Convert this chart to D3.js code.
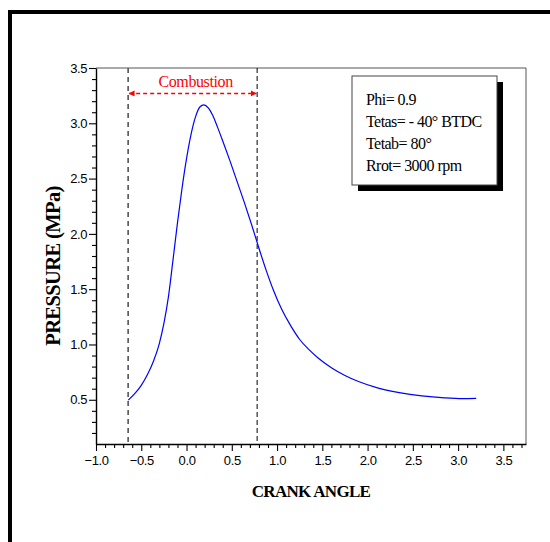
<!DOCTYPE html>
<html>
<head>
<meta charset="utf-8">
<script src="https://cdn.jsdelivr.net/npm/d3@7"></script>
<style>
  body { margin: 0; background: #fff; }
  .tick text { font-family: "Liberation Sans", Arial, sans-serif; font-size: 13px; letter-spacing: -0.4px; fill: #000; }
  .serif { font-family: "Liberation Serif", "Times New Roman", serif; }
</style>
</head>
<body>
<div id="grafico"></div>
<script>
// datos: angulo de ciguenal vs presion
angulo  = [-0.643, -0.57, -0.50, -0.43, -0.36, -0.30, -0.25, -0.20, -0.15, -0.10, -0.05, 0.00, 0.05, 0.10, 0.15, 0.19,
           0.24, 0.29, 0.34, 0.40, 0.48, 0.56, 0.64, 0.72, 0.80, 0.88, 0.96, 1.05, 1.15, 1.25, 1.35, 1.45, 1.60,
           1.75, 1.90, 2.10, 2.35, 2.60, 2.85, 3.05, 3.20]
presion = [0.497, 0.557, 0.630, 0.730, 0.860, 1.010, 1.190, 1.43, 1.76, 2.10, 2.41, 2.68, 2.90, 3.06, 3.15, 3.166,
           3.14, 3.07, 2.97, 2.84, 2.66, 2.47, 2.28, 2.08, 1.87, 1.67, 1.49, 1.32, 1.17, 1.045, 0.955, 0.88, 0.79,
           0.72, 0.665, 0.61, 0.565, 0.535, 0.517, 0.51, 0.512]

// limites de la combustion
combustion = [-0.645, 0.78]

// marcas de los ejes
ticksX = [-1.0, -0.5, 0.0, 0.5, 1.0, 1.5, 2.0, 2.5, 3.0, 3.5]
ticksY = [0.5, 1.0, 1.5, 2.0, 2.5, 3.0, 3.5]

// texto del cuadro
leyenda = ['Phi= 0.9', 'Tetas= - 40\u00b0 BTDC', 'Tetab= 80\u00b0', 'Rrot= 3000 rpm']

ancho_total = 550
alto_total = 542
margins = { top: 68, left: 96, right: 24, bottom: 98 }
ancho = ancho_total - margins.left - margins.right
alto = alto_total - margins.top - margins.bottom

svg = d3.select('#grafico').append('svg')
        .attr('width', ancho_total)
        .attr('height', alto_total)

// marco exterior
svg.append('rect')
   .attr('x', 10).attr('y', 12)
   .attr('width', 600).attr('height', 600)
   .attr('fill', 'none')
   .attr('stroke', '#000')
   .attr('stroke-width', 4)

g = svg.append('g')
       .attr('transform', `translate(${margins.left}, ${margins.top})`)

// escaladores
x = d3.scaleLinear().domain([-1, 3.75]).range([0, ancho])
y = d3.scaleLinear().domain([0.1, 3.5]).range([alto, 0])

// lineas superior y derecha
g.append('line').attr('x1', 0).attr('x2', ancho).attr('y1', 0).attr('y2', 0)
 .attr('stroke', '#555').attr('stroke-width', 1)
g.append('line').attr('x1', ancho).attr('x2', ancho).attr('y1', 0).attr('y2', alto)
 .attr('stroke', '#555').attr('stroke-width', 1)

// ejes menores
minX = d3.range(-0.9, 3.75, 0.1).filter(v => Math.abs(v * 2 - Math.round(v * 2)) > 0.01)
minY = d3.range(0.2, 3.5, 0.1).filter(v => Math.abs(v * 2 - Math.round(v * 2)) > 0.01)

g.append('g').attr('transform', `translate(0, ${alto})`)
 .call(d3.axisBottom(x).tickValues(minX).tickSize(4).tickFormat(''))
 .call(a => a.select('.domain').remove())
g.append('g')
 .call(d3.axisLeft(y).tickValues(minY).tickSize(4).tickFormat(''))
 .call(a => a.select('.domain').remove())

// ejes mayores
xAxis = g.append('g').attr('transform', `translate(0, ${alto})`)
 .call(d3.axisBottom(x).tickValues(ticksX).tickSize(7).tickSizeOuter(0).tickFormat(d3.format('.1f')).tickPadding(5))
yAxis = g.append('g')
 .call(d3.axisLeft(y).tickValues(ticksY).tickSize(7).tickSizeOuter(0).tickFormat(d3.format('.1f')).tickPadding(2))
g.selectAll('.domain').attr('stroke-width', 1.4)
g.selectAll('.tick line').attr('stroke-width', 1.1)

// lineas discontinuas de inicio y fin de combustion
g.append('line')
 .attr('x1', x(combustion[0])).attr('x2', x(combustion[0]))
 .attr('y1', 0).attr('y2', alto)
 .attr('stroke', '#555').attr('stroke-width', 1.6).attr('stroke-dasharray', '5,4')
g.append('line')
 .attr('x1', x(combustion[1])).attr('x2', x(combustion[1]))
 .attr('y1', 0).attr('y2', alto)
 .attr('stroke', '#000').attr('stroke-width', 1).attr('stroke-dasharray', '5,3')

// flecha de combustion
defs = svg.append('defs')
defs.append('marker').attr('id', 'flecha')
    .attr('viewBox', '0 0 10 10').attr('refX', 9).attr('refY', 5)
    .attr('markerWidth', 6).attr('markerHeight', 6)
    .attr('markerUnits', 'userSpaceOnUse')
    .attr('orient', 'auto-start-reverse')
  .append('path').attr('d', 'M0,0 L10,5 L0,10 z').attr('fill', '#ff0000')

yFlecha = y(3.27)
g.append('line')
 .attr('x1', x(combustion[0]) + 1).attr('x2', x(combustion[1]) - 1)
 .attr('y1', yFlecha).attr('y2', yFlecha)
 .attr('stroke', '#ff0000').attr('stroke-width', 1.5).attr('stroke-dasharray', '4,3')
 .attr('marker-start', 'url(#flecha)').attr('marker-end', 'url(#flecha)')
g.append('text').attr('class', 'serif')
 .attr('x', (x(combustion[0]) + x(combustion[1])) / 2 + 3)
 .attr('y', yFlecha - 6)
 .attr('text-anchor', 'middle')
 .attr('font-size', '16px').attr('letter-spacing', '-0.4px')
 .attr('fill', '#ff0000')
 .text('Combustion')

// curva de presion
datos = angulo.map((a, i) => ({ a: a, p: presion[i] }))
lineaGen = d3.line().x(d => x(d.a)).y(d => y(d.p)).curve(d3.curveMonotoneX)
g.append('path').datum(datos)
 .attr('fill', 'none').attr('stroke', '#0000ff').attr('stroke-width', 1.2)
 .attr('d', lineaGen)

// cuadro de parametros con sombra
caja = { x: 352, y: 76, w: 145, h: 109 }
svg.append('rect').attr('x', caja.x + 6).attr('y', caja.y + 6)
   .attr('width', caja.w).attr('height', caja.h).attr('fill', '#000')
svg.append('rect').attr('x', caja.x).attr('y', caja.y)
   .attr('width', caja.w).attr('height', caja.h)
   .attr('fill', '#fff').attr('stroke', '#444').attr('stroke-width', 1)
svg.selectAll('.leyenda').data(leyenda).enter().append('text')
   .attr('class', 'serif')
   .attr('x', caja.x + 14)
   .attr('y', (d, i) => 105 + i * 22)
   .attr('font-size', '16px').attr('letter-spacing', '-0.55px')
   .text(d => d)

// titulos de ejes
svg.append('text').attr('class', 'serif')
   .attr('x', margins.left + ancho / 2).attr('y', 497)
   .attr('text-anchor', 'middle')
   .attr('font-size', '17px').attr('font-weight', 'bold').attr('letter-spacing', '-0.7px')
   .text('CRANK ANGLE')
svg.append('text').attr('class', 'serif')
   .attr('transform', `translate(60, 266) rotate(-90)`)
   .attr('text-anchor', 'middle')
   .attr('font-size', '20.5px').attr('font-weight', 'bold').attr('letter-spacing', '-0.6px')
   .text('PRESSURE (MPa)')
</script>
</body>
</html>
